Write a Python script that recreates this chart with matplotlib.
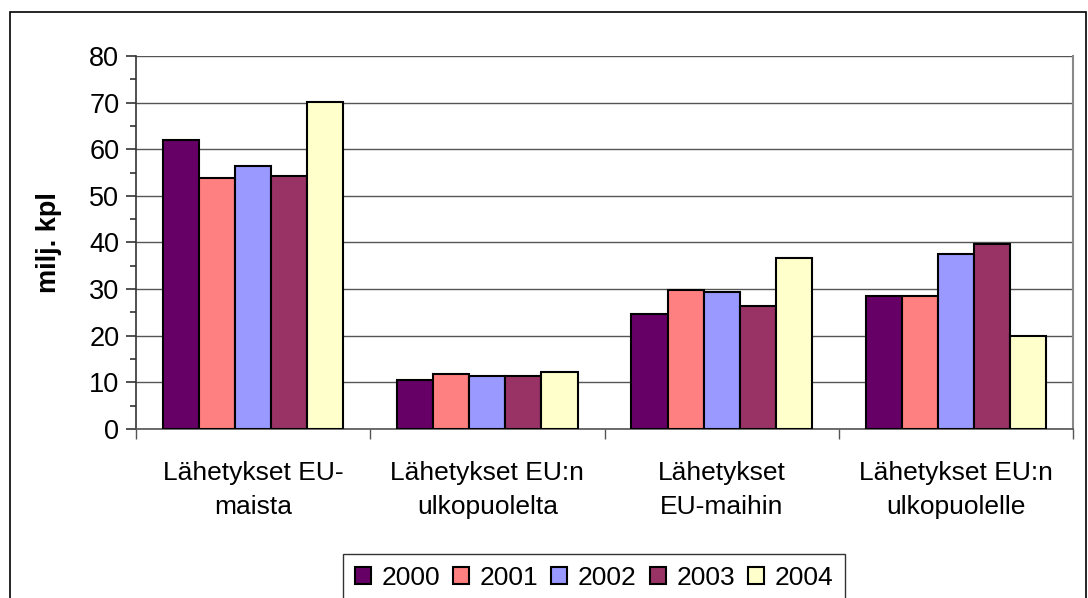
import numpy as np
import matplotlib
matplotlib.use("Agg")
import matplotlib.pyplot as plt
from matplotlib.patches import Rectangle

plt.rcParams['font.family'] = ['Liberation Sans', 'DejaVu Sans']

categories = ["Lähetykset EU-\nmaista", "Lähetykset EU:n\nulkopuolelta",
              "Lähetykset\nEU-maihin", "Lähetykset EU:n\nulkopuolelle"]
years = ["2000", "2001", "2002", "2003", "2004"]
values = {
    "2000": [62.0, 10.5, 24.7, 28.5],
    "2001": [53.9, 11.8, 29.8, 28.5],
    "2002": [56.4, 11.4, 29.4, 37.6],
    "2003": [54.3, 11.4, 26.4, 39.7],
    "2004": [70.2, 12.2, 36.7, 20.0],
}
colors = ["#660066", "#FF8080", "#9999FF", "#993366", "#FFFFCC"]

fig = plt.figure(figsize=(10.88, 5.98), dpi=100)
ax = fig.add_axes([136/1088, 1 - 429/598, (1073-136)/1088, (429-56)/598])

# outer chart border
fig.patches.append(Rectangle((10/1088, -0.01), (1086-10)/1088, 1 - 12/598 + 0.01,
                             transform=fig.transFigure, fill=False,
                             edgecolor="black", linewidth=1.2))

x = np.arange(len(categories))
group_w = 0.77
bw = group_w / len(years)
for i, (yr, col) in enumerate(zip(years, colors)):
    pos = x - group_w/2 + bw*(i + 0.5)
    ax.bar(pos, values[yr], width=bw, color=col, edgecolor="black",
           linewidth=1.5, label=yr, zorder=3)

ax.set_xlim(-0.5, len(categories) - 0.5)
ax.set_ylim(0, 80)
ax.set_yticks(np.arange(0, 81, 10))
ax.set_yticks(np.arange(5, 80, 10), minor=True)
ax.yaxis.grid(True, color="#555555", linewidth=1.0, zorder=0)
ax.tick_params(axis="y", which="major", direction="out", length=7, width=1.2,
               labelsize=19.5, pad=5, color="#333333")
ax.tick_params(axis="y", which="minor", direction="out", length=4, width=1.2,
               color="#333333")

ax.set_xticks(x)
ax.set_xticklabels(categories, fontsize=19, linespacing=1.55)
ax.tick_params(axis="x", which="major", length=0, pad=23)
ax.set_xticks(np.arange(-0.5, len(categories), 1), minor=True)
ax.tick_params(axis="x", which="minor", direction="out", length=7, width=1.0,
               color="#555555")

ax.spines["top"].set_visible(False)
ax.spines["right"].set_color("#888888")
ax.spines["right"].set_linewidth(1.5)
ax.spines["left"].set_color("#333333")
ax.spines["left"].set_linewidth(1.2)
ax.spines["bottom"].set_color("#555555")
ax.spines["bottom"].set_linewidth(1.2)

ax.set_ylabel("milj. kpl", fontsize=19.5, fontweight="bold")
ax.yaxis.set_label_coords(-74/937, 0.5)

leg = fig.legend(loc="lower center", bbox_to_anchor=(594/1088, -4/598), ncol=5,
                 fontsize=19, frameon=True, fancybox=False, edgecolor="black",
                 handlelength=0.6, handleheight=0.6, handletextpad=0.4,
                 columnspacing=0.5, borderpad=0.45, borderaxespad=0)
leg.get_frame().set_linewidth(1.0)

plt.savefig("out.png", dpi=100)
